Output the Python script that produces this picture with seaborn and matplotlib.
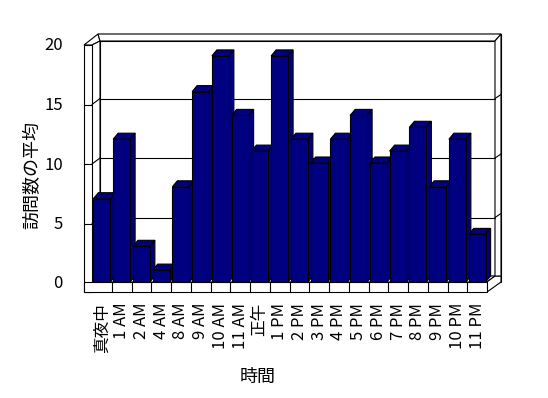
import numpy as np
import pandas as pd
import matplotlib
matplotlib.use("Agg")
import matplotlib.pyplot as plt
import seaborn as sns
from matplotlib.patches import Polygon
from matplotlib.lines import Line2D
from matplotlib.transforms import IdentityTransform

# ---- data ----
hours = ['真夜中', '1 AM', '2 AM', '4 AM', '8 AM', '9 AM', '10 AM', '11 AM', '正午',
         '1 PM', '2 PM', '3 PM', '4 PM', '5 PM', '6 PM', '7 PM', '8 PM', '9 PM',
         '10 PM', '11 PM']
visits = [7, 12, 3, 1, 8, 16, 19, 14, 11, 19, 12, 10, 12, 14, 10, 11, 13, 8, 12, 4]
y_ticks = [0, 5, 10, 15, 20]
x_title = '時間'
y_title = '訪問数の平均'

sns.set_theme(style='white')
plt.rcParams['font.family'] = ['Noto Sans CJK JP', 'DejaVu Sans']

W, H = 548, 398
fig = plt.figure(figsize=(W / 100, H / 100), dpi=100)
fig.patch.set_facecolor('white')
ax = fig.add_axes([92 / W, (H - 282) / H, 395 / W, 238 / H])

df = pd.DataFrame({'hour': hours, 'visits': visits})
sns.barplot(data=df, x='hour', y='visits', color='#000080', saturation=1,
            width=0.86, edgecolor='black', linewidth=0.8, errorbar=None, ax=ax)
ax.set_xlim(-0.5, len(hours) - 0.5)
ax.set_ylim(y_ticks[0], y_ticks[-1])
for s in ax.spines.values():
    s.set_visible(False)
ax.patch.set_alpha(0)
ax.set_yticks(y_ticks)
ax.tick_params(axis='y', length=0, pad=21, labelsize=12, colors='black')
ax.tick_params(axis='x', length=0, pad=15, labelsize=12, labelrotation=90, colors='black')
ax.set_xlabel(x_title, fontsize=13, color='black')
ax.set_ylabel(y_title, fontsize=13, color='black')
ax.xaxis.set_label_coords(0.42, -0.36)
ax.yaxis.set_label_coords(-0.127, 0.45)

# ---- 3D frame geometry (display pixels) ----
T = ax.transData
ID = IdentityTransform()
X0, Y0 = T.transform((-0.5, y_ticks[0]))
X1, Y20 = T.transform((len(hours) - 0.5, y_ticks[-1]))
WT = 8      # left wall thickness
FT = 10     # floor thickness
din = (8, 6)    # inner depth offset
dout = (14, 10)  # outer depth offset
lw = 0.8

def poly(pts, fc='white', z=0.5):
    ax.add_patch(Polygon(pts, closed=True, facecolor=fc, edgecolor='black',
                         linewidth=lw, transform=ID, clip_on=False, zorder=z))

def line(xs, ys, z=0.7):
    ax.add_line(Line2D(xs, ys, color='black', linewidth=lw, transform=ID,
                       clip_on=False, zorder=z))

xl = X0 - WT      # outer left of left wall
yb = Y0 - FT      # bottom of floor front face
# back wall (outer)
poly([(xl + dout[0], Y20 + dout[1]), (X1 + dout[0], Y20 + dout[1]),
      (X1 + dout[0], Y0 + dout[1] - FT + 0), (xl + dout[0], Y0)], z=0.4)
# back wall inner face
poly([(X0 + din[0], Y0 + din[1]), (X1 + din[0], Y0 + din[1]),
      (X1 + din[0], Y20 + din[1] - 3), (X0 + din[0], Y20 + din[1] - 3)], z=0.45)
# left wall top face
poly([(xl, Y20 - 1), (X0, Y20 - 1), (X0 + din[0], Y20 + din[1] - 3),
      (xl + dout[0], Y20 + dout[1])], z=0.46)
# back wall top face
poly([(X0 + din[0], Y20 + din[1] - 3), (X1 + din[0], Y20 + din[1] - 3),
      (X1 + dout[0], Y20 + dout[1]), (xl + dout[0], Y20 + dout[1])], z=0.46)
# left wall inner face
poly([(X0, Y0), (X0 + din[0], Y0 + din[1]), (X0 + din[0], Y20 + din[1] - 3),
      (X0, Y20 - 1)], z=0.46)
# left wall front face
poly([(xl, yb), (X0, yb), (X0, Y20 - 1), (xl, Y20 - 1)], z=0.47)
# floor top
poly([(X0, Y0), (X1, Y0), (X1 + din[0], Y0 + din[1]), (X0 + din[0], Y0 + din[1])], z=0.46)
# floor right end
poly([(X1, yb), (X1 + dout[0], yb + dout[1]), (X1 + dout[0], Y0 + din[1]),
      (X1 + din[0], Y0 + din[1]), (X1, Y0)], z=0.46)
# back wall right side
poly([(X1 + din[0], Y0 + din[1]), (X1 + dout[0], Y0 + din[1]),
      (X1 + dout[0], Y20 + dout[1]), (X1 + din[0], Y20 + din[1] - 3)], z=0.46)
# floor front face
poly([(xl, yb), (X1, yb), (X1, Y0), (xl, Y0)], z=0.47)
for k in range(1, len(hours)):
    xk = T.transform((k - 0.5, 0))[0]
    line([xk, xk], [yb, Y0], z=0.6)

# gridlines
for v in y_ticks[1:-1]:
    yf = T.transform((0, v))[1] - 1 + (Y20 - 1 - (Y20 - 1)) * 0
    ybk = yf + din[1] - 3 * v / y_ticks[-1] * 0
    line([xl, X0], [yf, yf])
    line([X0, X0 + din[0]], [yf, yf + din[1]])
    line([X0 + din[0], X1 + din[0]], [yf + din[1], yf + din[1]], z=0.55)
    line([X1 + din[0], X1 + dout[0]], [yf + din[1], yf + din[1] + 4], z=0.55)

# ---- bar tops and sides ----
bd = (5, 6)
for i, p in enumerate(ax.patches[:len(hours)]):
    x0b, y0b = T.transform((p.get_x(), p.get_y()))
    x1b, y1b = T.transform((p.get_x() + p.get_width(), p.get_y() + p.get_height()))
    z = 2 + i * 0.01
    p.set_zorder(z + 0.005)
    poly([(x0b, y1b), (x1b, y1b), (x1b + bd[0], y1b + bd[1]), (x0b + bd[0], y1b + bd[1])],
         fc='#000080', z=z)
    poly([(x1b, y0b), (x1b, y1b), (x1b + bd[0], y1b + bd[1]), (x1b + bd[0], y0b + bd[1])],
         fc='#000080', z=z)

fig.savefig('out.png', dpi=100, facecolor='white')
